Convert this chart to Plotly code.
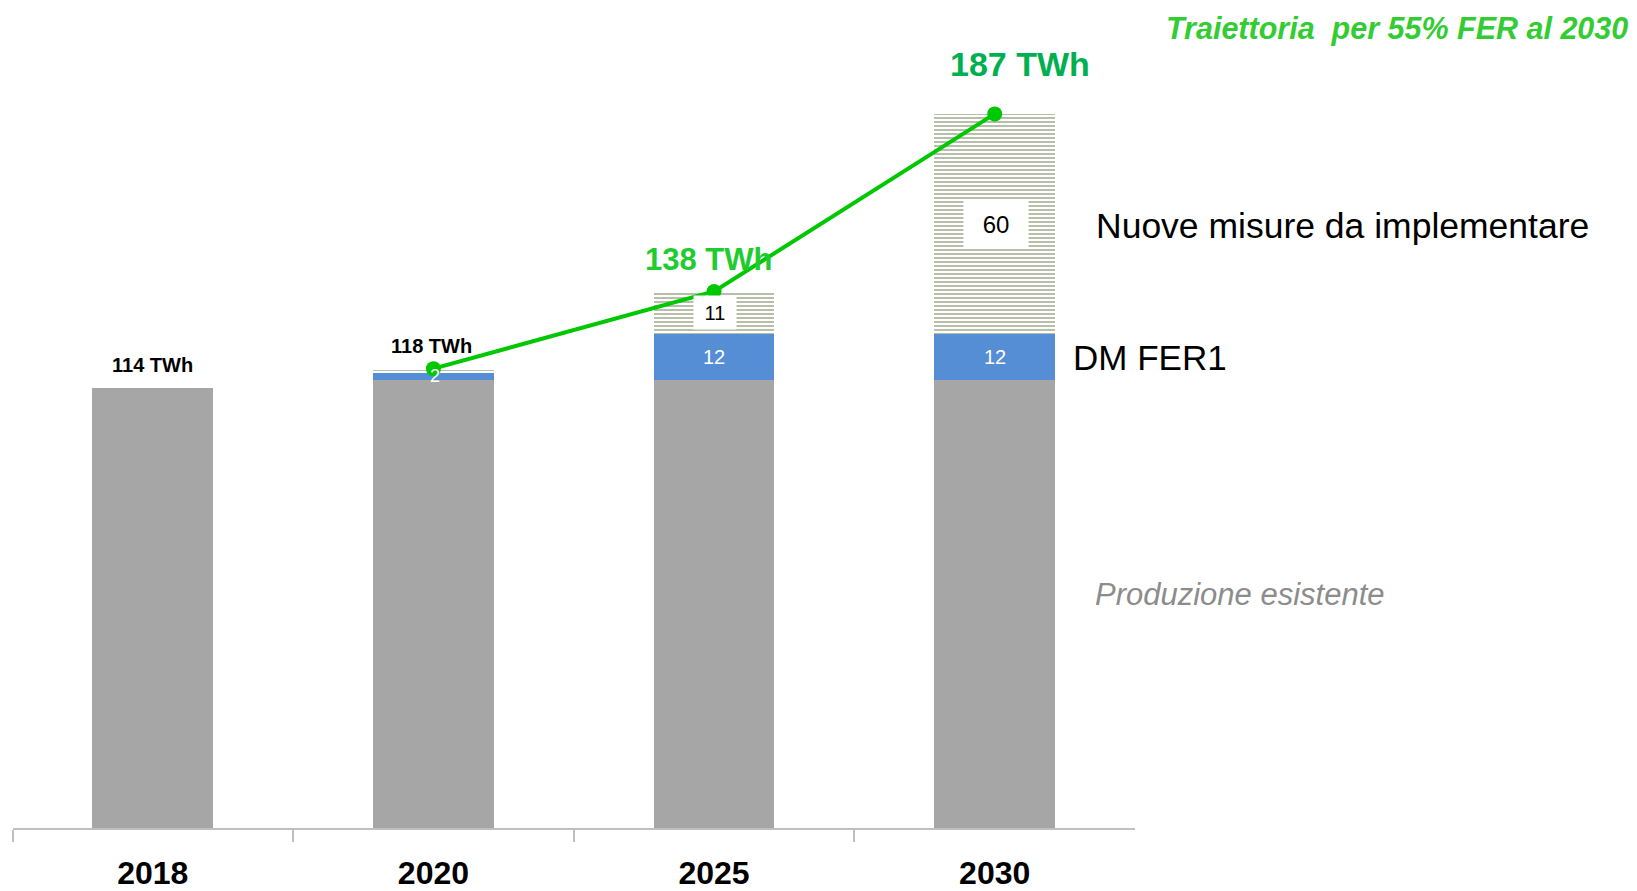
import plotly.graph_objects as go

W, H = 1637, 891

years = ["2018", "2020", "2025", "2030"]
produzione = [114, 116, 116, 116]
dm_fer1 = [0, 2, 12, 12]
nuove = [0, 0.7, 11, 57]
dm_text = ["", "2", "12", "12"]
nuove_text = ["", "", "11", "60"]

line_years = ["2020", "2025", "2030"]
line_values = [119, 139, 185]

total_labels = ["114 TWh", "118 TWh"]
green_labels = ["138 TWh", "187 TWh"]

GRAY = "#a6a6a6"
BLUE = "#558ed5"
HATCH = "#6f7d55"
LINE_GREEN = "#00c800"
FONT = "Liberation Sans, Arial, sans-serif"

YMAX = 828 / 3.86

fig = go.Figure()
fig.add_trace(go.Bar(x=years, y=produzione, marker=dict(color=GRAY, line=dict(width=0)),
                     width=0.43, hoverinfo="skip", showlegend=False))
fig.add_trace(go.Bar(x=years, y=dm_fer1, marker=dict(color=BLUE, line=dict(width=0)),
                     width=0.43, hoverinfo="skip", showlegend=False))
fig.add_trace(go.Bar(x=years, y=nuove,
                     marker=dict(color="white", line=dict(width=0),
                                 pattern=dict(shape="-", fgcolor=HATCH, bgcolor="white",
                                              size=4, solidity=0.5, fillmode="overlay")),
                     width=0.43, hoverinfo="skip", showlegend=False))
fig.add_trace(go.Scatter(x=line_years, y=line_values, mode="lines+markers",
                         line=dict(color=LINE_GREEN, width=4),
                         marker=dict(color=LINE_GREEN, size=15),
                         hoverinfo="skip", showlegend=False))

idx = {y: i for i, y in enumerate(years)}
ann = []
ann.append(dict(x=0, y=produzione[0] + 6, text="<b>" + total_labels[0] + "</b>",
                showarrow=False, font=dict(size=20, color="black", family=FONT)))
ann.append(dict(x=1, y=produzione[1] + dm_fer1[1] + nuove[1] + 6.3, text="<b>" + total_labels[1] + "</b>",
                showarrow=False, xshift=-2, font=dict(size=20, color="black", family=FONT)))
ann.append(dict(x=idx[line_years[1]], y=line_values[1] + 8.4, text="<b>" + green_labels[0] + "</b>",
                showarrow=False, xshift=-6, font=dict(size=31, color="#1fcc2f", family=FONT)))
ann.append(dict(x=idx[line_years[2]], y=line_values[2] + 12.8, text="<b>" + green_labels[1] + "</b>",
                showarrow=False, xshift=25, font=dict(size=34, color="#00b050", family=FONT)))
for i in range(len(years)):
    if dm_text[i]:
        ann.append(dict(x=i, y=produzione[i] + dm_fer1[i] / 2, text=dm_text[i], showarrow=False,
                        xshift=2 if i == 1 else 0,
                        font=dict(size=20 if i > 1 else 18, color="white", family=FONT)))
box = {2: (42, 33, 20), 3: (64, 48, 24)}
for i in range(len(years)):
    if nuove_text[i]:
        bw, bh, fs = box[i]
        ann.append(dict(x=i, y=produzione[i] + dm_fer1[i] + nuove[i] / 2, text=nuove_text[i],
                        showarrow=False, bgcolor="white", width=bw, height=bh, borderpad=0,
                        xshift=1,
                        font=dict(size=fs, color="black", family=FONT)))


def px(xp):
    return xp / W


def py(yp):
    return 1 - yp / H


ann.append(dict(xref="paper", yref="paper", x=px(1094), y=py(226), xanchor="left", yanchor="middle",
                text="Nuove misure da implementare", showarrow=False,
                font=dict(size=35.5, color="black", family=FONT)))
ann.append(dict(xref="paper", yref="paper", x=px(1071), y=py(358), xanchor="left", yanchor="middle",
                text="DM FER1", showarrow=False,
                font=dict(size=35, color="black", family=FONT)))
ann.append(dict(xref="paper", yref="paper", x=px(1093), y=py(594), xanchor="left", yanchor="middle",
                text="<i>Produzione esistente</i>", showarrow=False,
                font=dict(size=31, color="#8c8c8c", family=FONT)))
ann.append(dict(xref="paper", yref="paper", x=px(1630), y=py(29), xanchor="right", yanchor="middle",
                text="<b><i>Traiettoria  per 55% FER al 2030</i></b>", showarrow=False,
                font=dict(size=30.5, color="#33cc33", family=FONT)))

fig.update_layout(
    width=W, height=H,
    margin=dict(l=0, r=0, t=0, b=0),
    paper_bgcolor="white", plot_bgcolor="white",
    barmode="stack",
    annotations=ann,
    xaxis=dict(domain=[12.5 / W, 1135 / W], range=[-0.5, 3.5], type="category",
               showline=True, linecolor="#bfbfbf", linewidth=1.5,
               ticks="outside", tickson="boundaries", ticklen=12, tickcolor="#bfbfbf", tickwidth=1.5,
               tickfont=dict(size=32, color="black", family=FONT),
               tickprefix="<b>", ticksuffix="</b>", ticklabelstandoff=16,
               showgrid=False, automargin=False, fixedrange=True),
    yaxis=dict(domain=[(H - 828) / H, 1], range=[0, YMAX], visible=False,
               showgrid=False, zeroline=False, automargin=False, fixedrange=True),
)

fig.write_html("out.html", config={"displayModeBar": False},
               post_script="document.body.style.margin='0';document.body.style.overflow='hidden';")
